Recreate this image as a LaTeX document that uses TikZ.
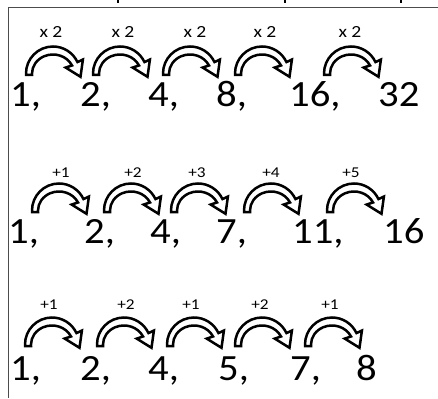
\documentclass[tikz,border=0pt]{standalone}
\usepackage{fontspec}
\setmainfont{Carlito}
\begin{document}
\begin{tikzpicture}[x=1pt,y=1pt,
  num/.style={anchor=base west,inner sep=0pt,xscale=1.1,font=\fontsize{37}{37}\selectfont},
  mlab/.style={inner sep=0pt,xscale=1.15,font=\fontsize{17}{17}\selectfont},
  plab/.style={inner sep=0pt,xscale=1.15,font=\fontsize{15}{15}\selectfont},
  frame/.style={draw=black!70,line width=0.9pt},
  curv/.pic={
    \draw[line width=2.5pt,fill=white,line join=miter,miter limit=4]
      (0,0) -- (0,1.5) arc[start angle=180,end angle=25,radius=27pt]
      -- ([shift={(27,1.5)}]25:33pt)
      -- (54.5,-1.8)
      -- ([shift={(27,1.5)}]25:14pt)
      -- (46.03,9.53) arc[start angle=25,end angle=180,x radius=21pt,y radius=19pt]
      -- (6,0) -- cycle;
  }]
\useasboundingbox (0,0) rectangle (438,-398);
% frame
\draw[frame] (438,-7.5) -- (8,-7.5) -- (8,-398);
\draw[line width=1.6pt] (118,0) -- (118,-3.5) (285,0) -- (285,-3.5) (401,0) -- (401,-3.5);

% row 1
\node[num] (a1) at (10,-107) {1,};
\node[num] (a2) at (80,-107) {2,};
\node[num] (a3) at (148,-107) {4,};
\node[num] (a4) at (216,-107) {8,};
\node[num] (a5) at (289,-107) {16,};
\node[num] (a6) at (378,-107) {32};
\pic (ca1) at (26,-75) {curv};
\pic (ca2) at (93,-75) {curv};
\pic (ca3) at (163,-75) {curv};
\pic (ca4) at (235,-75) {curv};
\pic (ca5) at (324,-75) {curv};
\node[mlab] (la1) at (51,-32) {x 2};
\node[mlab] (la2) at (123,-32) {x 2};
\node[mlab] (la3) at (195,-32) {x 2};
\node[mlab] (la4) at (265,-32) {x 2};
\node[mlab] (la5) at (350,-32) {x 2};

% row 2
\node[num] (b1) at (8,-243) {1,};
\node[num] (b2) at (84,-243) {2,};
\node[num] (b3) at (150,-243) {4,};
\node[num] (b4) at (216,-243) {7,};
\node[num] (b5) at (292,-243) {11,};
\node[num] (b6) at (383,-243) {16};
\pic (cb1) at (32,-212) {curv};
\pic (cb2) at (104,-212) {curv};
\pic (cb3) at (171,-212) {curv};
\pic (cb4) at (244,-212) {curv};
\pic (cb5) at (327,-212) {curv};
\node[plab] (lb1) at (61,-172.5) {+1};
\node[plab] (lb2) at (133,-172.5) {+2};
\node[plab] (lb3) at (197,-172.5) {+3};
\node[plab] (lb4) at (271,-172.5) {+4};
\node[plab] (lb5) at (351,-172.5) {+5};

% row 3
\node[num] (c1) at (10,-380) {1,};
\node[num] (c2) at (80,-380) {2,};
\node[num] (c3) at (148,-380) {4,};
\node[num] (c4) at (218,-380) {5,};
\node[num] (c5) at (290,-380) {7,};
\node[num] (c6) at (356,-380) {8};
\pic (cc1) at (25,-346) {curv};
\pic (cc2) at (97,-346) {curv};
\pic (cc3) at (167,-346) {curv};
\pic (cc4) at (235,-346) {curv};
\pic (cc5) at (305,-346) {curv};
\node[plab] (lc1) at (49,-305) {+1};
\node[plab] (lc2) at (126,-305) {+2};
\node[plab] (lc3) at (191,-305) {+1};
\node[plab] (lc4) at (260,-305) {+2};
\node[plab] (lc5) at (330,-305) {+1};
\end{tikzpicture}
\end{document}
